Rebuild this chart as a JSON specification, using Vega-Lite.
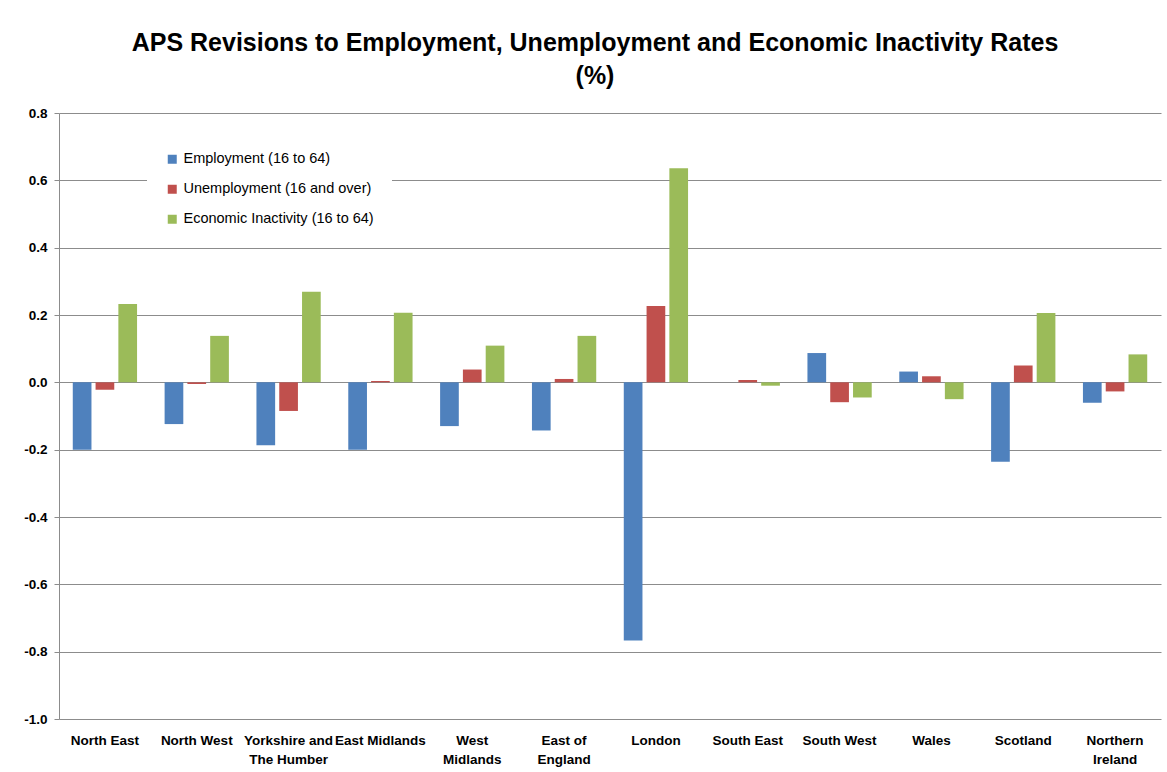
{
  "$schema": "https://vega.github.io/schema/vega-lite/v6.json",
  "width": 1102,
  "height": 606,
  "autosize": {"type": "none"},
  "padding": {"left": 59, "top": 113, "right": 6, "bottom": 53},
  "background": "white",
  "title": {
    "text": ["APS Revisions to Employment, Unemployment and Economic Inactivity Rates", "(%)"],
    "font": "Liberation Sans",
    "fontSize": 25,
    "fontWeight": "bold",
    "color": "#000000",
    "lineHeight": 33,
    "anchor": "middle",
    "frame": "group",
    "dx": -15,
    "offset": 17
  },
  "data": {
    "values": [
      {"region": "North East", "series": "Employment (16 to 64)", "value": -0.2},
      {"region": "North East", "series": "Unemployment (16 and over)", "value": -0.022},
      {"region": "North East", "series": "Economic Inactivity (16 to 64)", "value": 0.233},
      {"region": "North West", "series": "Employment (16 to 64)", "value": -0.124},
      {"region": "North West", "series": "Unemployment (16 and over)", "value": -0.005},
      {"region": "North West", "series": "Economic Inactivity (16 to 64)", "value": 0.138},
      {"region": "Yorkshire and The Humber", "series": "Employment (16 to 64)", "value": -0.187},
      {"region": "Yorkshire and The Humber", "series": "Unemployment (16 and over)", "value": -0.085},
      {"region": "Yorkshire and The Humber", "series": "Economic Inactivity (16 to 64)", "value": 0.269},
      {"region": "East Midlands", "series": "Employment (16 to 64)", "value": -0.2},
      {"region": "East Midlands", "series": "Unemployment (16 and over)", "value": 0.004},
      {"region": "East Midlands", "series": "Economic Inactivity (16 to 64)", "value": 0.207},
      {"region": "West Midlands", "series": "Employment (16 to 64)", "value": -0.13},
      {"region": "West Midlands", "series": "Unemployment (16 and over)", "value": 0.038},
      {"region": "West Midlands", "series": "Economic Inactivity (16 to 64)", "value": 0.109},
      {"region": "East of England", "series": "Employment (16 to 64)", "value": -0.143},
      {"region": "East of England", "series": "Unemployment (16 and over)", "value": 0.01},
      {"region": "East of England", "series": "Economic Inactivity (16 to 64)", "value": 0.138},
      {"region": "London", "series": "Employment (16 to 64)", "value": -0.767},
      {"region": "London", "series": "Unemployment (16 and over)", "value": 0.227},
      {"region": "London", "series": "Economic Inactivity (16 to 64)", "value": 0.636},
      {"region": "South East", "series": "Employment (16 to 64)", "value": 0.0},
      {"region": "South East", "series": "Unemployment (16 and over)", "value": 0.007},
      {"region": "South East", "series": "Economic Inactivity (16 to 64)", "value": -0.01},
      {"region": "South West", "series": "Employment (16 to 64)", "value": 0.087},
      {"region": "South West", "series": "Unemployment (16 and over)", "value": -0.059},
      {"region": "South West", "series": "Economic Inactivity (16 to 64)", "value": -0.045},
      {"region": "Wales", "series": "Employment (16 to 64)", "value": 0.032},
      {"region": "Wales", "series": "Unemployment (16 and over)", "value": 0.018},
      {"region": "Wales", "series": "Economic Inactivity (16 to 64)", "value": -0.05},
      {"region": "Scotland", "series": "Employment (16 to 64)", "value": -0.236},
      {"region": "Scotland", "series": "Unemployment (16 and over)", "value": 0.05},
      {"region": "Scotland", "series": "Economic Inactivity (16 to 64)", "value": 0.206},
      {"region": "Northern Ireland", "series": "Employment (16 to 64)", "value": -0.061},
      {"region": "Northern Ireland", "series": "Unemployment (16 and over)", "value": -0.027},
      {"region": "Northern Ireland", "series": "Economic Inactivity (16 to 64)", "value": 0.083}
    ]
  },
  "mark": {"type": "bar"},
  "encoding": {
    "x": {
      "field": "region",
      "type": "nominal",
      "sort": null,
      "scale": {"paddingInner": 0.3, "paddingOuter": 0.15},
      "axis": {
        "title": null,
        "labelAngle": 0,
        "domain": false,
        "ticks": false,
        "labelPadding": 14,
        "labelFont": "Liberation Sans",
        "labelFontSize": 13.5,
        "labelFontWeight": "bold",
        "labelColor": "#000000",
        "labelLineHeight": 19,
        "labelLimit": 200,
        "labelExpr": "datum.value == 'Yorkshire and The Humber' ? ['Yorkshire and', 'The Humber'] : datum.value == 'West Midlands' ? ['West', 'Midlands'] : datum.value == 'East of England' ? ['East of', 'England'] : datum.value == 'Northern Ireland' ? ['Northern', 'Ireland'] : datum.value"
      }
    },
    "xOffset": {
      "field": "series",
      "type": "nominal",
      "sort": ["Employment (16 to 64)", "Unemployment (16 and over)", "Economic Inactivity (16 to 64)"],
      "scale": {"paddingInner": 0.18, "paddingOuter": 0}
    },
    "y": {
      "field": "value",
      "type": "quantitative",
      "scale": {"domain": [-1.0, 0.8], "nice": false, "zero": true},
      "axis": {
        "title": null,
        "values": [-1.0, -0.8, -0.6, -0.4, -0.2, 0.0, 0.2, 0.4, 0.6, 0.8],
        "labelExpr": "replace(format(datum.value, '.1f'), '\u2212', '-')",
        "grid": true,
        "gridColor": "#8c8c8c",
        "gridWidth": 1,
        "domainColor": "#8c8c8c",
        "tickColor": "#8c8c8c",
        "tickSize": 5,
        "labelPadding": 7,
        "labelFont": "Liberation Sans",
        "labelFontSize": 13.5,
        "labelFontWeight": "bold",
        "labelColor": "#000000"
      }
    },
    "color": {
      "field": "series",
      "type": "nominal",
      "sort": ["Employment (16 to 64)", "Unemployment (16 and over)", "Economic Inactivity (16 to 64)"],
      "scale": {
        "domain": ["Employment (16 to 64)", "Unemployment (16 and over)", "Economic Inactivity (16 to 64)"],
        "range": ["#4f81bd", "#c0504d", "#9bbb59"]
      },
      "legend": {
        "title": null,
        "orient": "none",
        "legendX": 88,
        "legendY": 21,
        "padding": 18,
        "fillColor": "white",
        "strokeColor": null,
        "symbolType": "square",
        "symbolSize": 81,
        "symbolStrokeWidth": 0,
        "rowPadding": 15,
        "labelFont": "Liberation Sans",
        "labelFontSize": 14.5,
        "labelColor": "#000000",
        "labelOffset": 4,
        "labelLimit": 400
      }
    }
  },
  "config": {
    "view": {"stroke": null}
  }
}
